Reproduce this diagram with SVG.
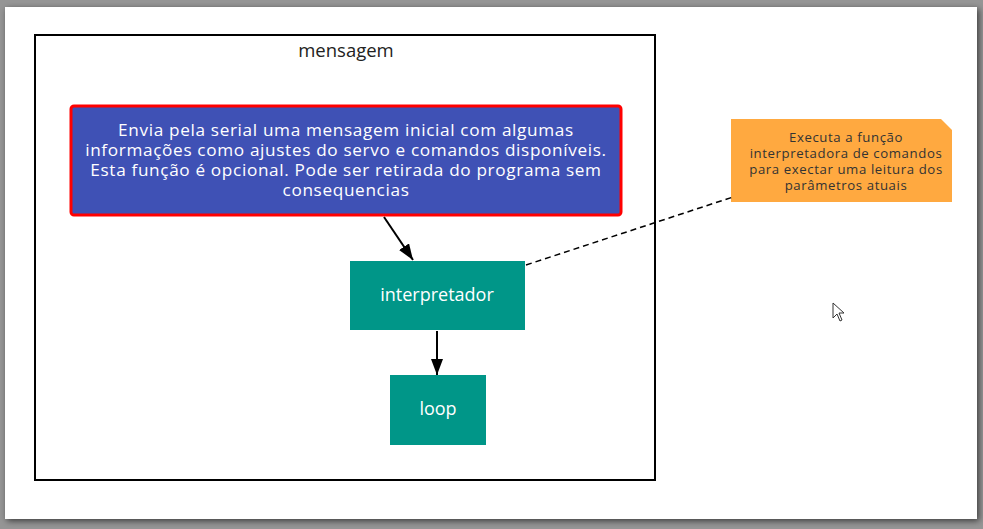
<svg xmlns="http://www.w3.org/2000/svg" width="983" height="529" viewBox="0 0 983 529">
<defs>
<filter id="sh" x="-5%" y="-5%" width="110%" height="110%">
<feGaussianBlur in="SourceAlpha" stdDeviation="3"/>
<feOffset dx="2" dy="2"/>
<feComponentTransfer><feFuncA type="linear" slope="0.6"/></feComponentTransfer>
<feMerge><feMergeNode/><feMergeNode in="SourceGraphic"/></feMerge>
</filter>
<marker id="ah" viewBox="0 0 16 12" refX="16" refY="6" markerWidth="16" markerHeight="12" markerUnits="userSpaceOnUse" orient="auto">
<path d="M0,0 L16,6 L0,12 z" fill="#000"/>
</marker>
</defs>
<style>
text{font-family:"Open Sans","Noto Sans","DejaVu Sans",sans-serif;}
.w{fill:#fff;font-size:17.2px;letter-spacing:0.65px;text-anchor:middle;}
.n{fill:#333;font-size:13.2px;letter-spacing:0.6px;text-anchor:middle;}
.teal{fill:#009688;}
.edge{stroke:#000;stroke-width:2;fill:none;}
</style>
<rect x="0" y="0" width="983" height="529" fill="#959595"/>
<rect x="5" y="7" width="972" height="512" fill="#fff" filter="url(#sh)"/>
<g id="mensagem">
<rect x="35" y="35" width="620" height="445" fill="none" stroke="#000" stroke-width="2"/>
<text x="346" y="57" style="font-size:18.5px;fill:#222;text-anchor:middle">mensagem</text>
</g>
<g id="envia">
<rect x="71" y="106" width="550" height="109" rx="3" fill="#3F51B5" stroke="#FF0000" stroke-width="3"/>
<text class="w"><tspan x="346" y="136">Envia pela serial uma mensagem inicial com algumas</tspan><tspan x="346" y="156">informações como ajustes do servo e comandos disponíveis.</tspan><tspan x="346" y="176">Esta função é opcional. Pode ser retirada do programa sem</tspan><tspan x="346" y="196">consequencias</tspan></text>
</g>
<g id="interpretador">
<rect class="teal" x="350" y="261" width="175" height="69"/>
<text class="w" x="437" y="301" style="font-size:18px;letter-spacing:0">interpretador</text>
</g>
<g id="loop">
<rect class="teal" x="390" y="375" width="96" height="70"/>
<text class="w" x="438" y="415" style="font-size:18px;letter-spacing:0">loop</text>
</g>
<g id="note">
<path d="M731,119 H941 L952,130 V202 H731 Z" fill="#FFA940"/>
<text class="n"><tspan x="846" y="142">Executa a função</tspan><tspan x="846" y="158">interpretadora de comandos</tspan><tspan x="846" y="174">para exectar uma leitura dos</tspan><tspan x="846" y="190">parâmetros atuais</tspan></text>
</g>
<g id="connectors">
<line class="edge" x1="384" y1="217" x2="413" y2="260" marker-end="url(#ah)"/>
<line class="edge" x1="437" y1="331" x2="437" y2="375" marker-end="url(#ah)"/>
<line x1="526" y1="265" x2="733" y2="197" stroke="#000" stroke-width="1.5" stroke-dasharray="6,4"/>
</g>
<path d="M833,303 L833,318 L837,314 L840,321 L842,320 L839,313 L844,313 Z" fill="#fff" stroke="#333" stroke-width="1"/>
</svg>
